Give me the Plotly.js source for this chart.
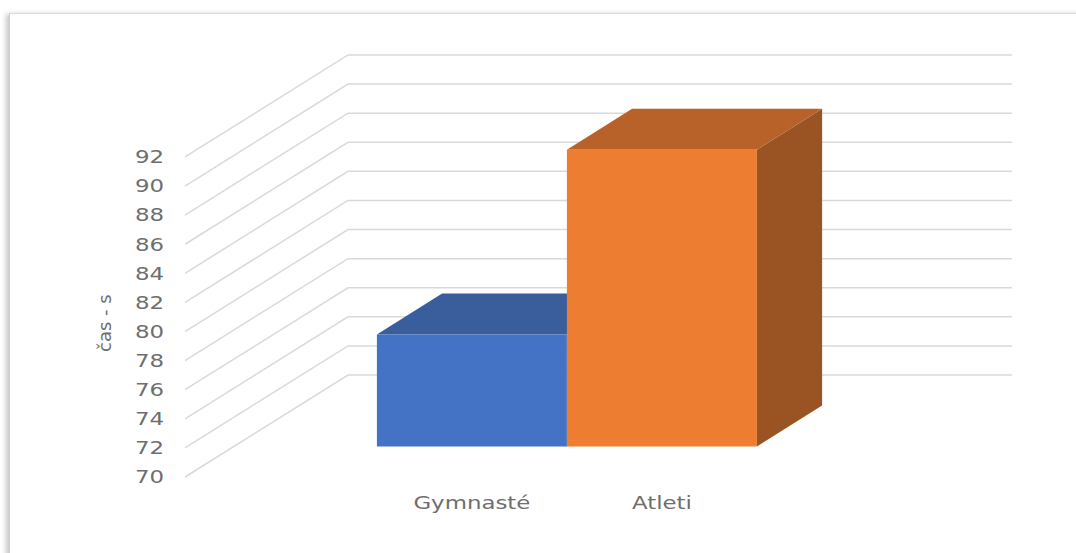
<!DOCTYPE html>
<html>
<head>
<meta charset="utf-8">
<script src="https://cdn.plot.ly/plotly-3.0.1.min.js"></script>
<style>
  html, body { margin: 0; padding: 0; background: #ffffff; }
  #chart { width: 1076px; height: 553px; position: absolute; left: 0; top: 0; }
  #frame { position: absolute; left: 9px; top: 13px; width: 1100px; height: 600px;
           border-left: 1px solid #cfcfcf; border-top: 1px solid #dcdcdc;
           box-shadow: -3px 1px 5px rgba(0,0,0,0.22); pointer-events: none; }
</style>
</head>
<body>
<div id="chart"></div>
<div id="frame"></div>
<script>
// ---- data ----
const categories = ["Gymnasté", "Atleti"];
const values = [77.7, 90.4];
const tickValues = [70, 72, 74, 76, 78, 80, 82, 84, 86, 88, 90, 92];
const yTitle = "čas - s";

// ---- oblique "3D" projection settings ----
const baseVal = 70;
const depthDX = 163;     // x units per full depth
const depthDY = 7.01;    // value units per full depth
const wallLen = 664;     // back wall length in x units
const barW = 190;
const catStart = 238, catStep = 190;
const d0 = 0.3, d1 = 0.7; // bar depth span

function proj(x, v, d) { return [x + d * depthDX, v + d * depthDY]; }

const frontColors = ["#4472C4", "#ED7D31"];
const topColors = ["#3A5D9C", "#B8622A"];
const sideColors = ["#2F4F86", "#9A5423"];
const gridColor = "#d9d9d9";

const traces = [];

// gridlines: diagonal (side wall) + back wall
tickValues.forEach(v => {
  const a = proj(0, v, 0), b = proj(0, v, 1), c = proj(wallLen, v, 1);
  traces.push({
    type: "scatter", mode: "lines", x: [a[0], b[0], c[0]], y: [a[1], b[1], c[1]],
    line: { color: gridColor, width: 1.5 }, hoverinfo: "skip", showlegend: false,
    xaxis: "x", yaxis: "y"
  });
});

// top and side faces
categories.forEach((c, i) => {
  const cx = catStart + i * catStep;
  const xl = cx - barW / 2, xr = cx + barW / 2, v = values[i];
  const top = [proj(xl, v, d0), proj(xr, v, d0), proj(xr, v, d1), proj(xl, v, d1), proj(xl, v, d0)];
  const side = [proj(xr, baseVal, d0), proj(xr, v, d0), proj(xr, v, d1), proj(xr, baseVal, d1), proj(xr, baseVal, d0)];
  [[side, sideColors[i]], [top, topColors[i]]].forEach(([poly, col]) => {
    traces.push({
      type: "scatter", mode: "lines", fill: "toself", fillcolor: col,
      x: poly.map(p => p[0]), y: poly.map(p => p[1]),
      line: { width: 0, color: col }, hoverinfo: "skip", showlegend: false,
      xaxis: "x", yaxis: "y"
    });
  });
});

// front faces as real bars (on overlaid axes so they are drawn on top)
const barX = categories.map((c, i) => catStart + i * catStep + d0 * depthDX);
traces.push({
  type: "bar", x: barX, y: values.map(v => v - baseVal),
  base: baseVal + d0 * depthDY, width: barW,
  marker: { color: frontColors, line: { width: 0 } },
  hovertext: categories, hoverinfo: "text", textposition: "none", showlegend: false,
  xaxis: "x2", yaxis: "y2"
});

const xRange = [0, 827];
const yRange = [69.106, 100.04];
const font = { family: "DejaVu Sans, Open Sans, sans-serif", size: 18, color: "#6e6e6e" };

const layout = {
  width: 1076, height: 553,
  margin: { l: 185, r: 64, t: 40, b: 63 },
  paper_bgcolor: "#ffffff", plot_bgcolor: "rgba(0,0,0,0)",
  showlegend: false,
  font: font,
  xaxis: {
    range: xRange, showgrid: false, zeroline: false, showline: false,
    tickmode: "array", tickvals: barX, ticktext: categories,
    ticks: "", tickfont: font, fixedrange: true
  },
  yaxis: {
    range: yRange, showgrid: false, zeroline: false, showline: false,
    tickmode: "array", tickvals: tickValues, ticktext: tickValues.map(String),
    ticks: "", ticklabelstandoff: 20, tickfont: font, fixedrange: true
  },
  xaxis2: { range: xRange, overlaying: "x", visible: false, fixedrange: true },
  yaxis2: { range: yRange, overlaying: "y", visible: false, fixedrange: true },
  annotations: [{
    text: yTitle, xref: "paper", yref: "paper",
    x: (104 - 185) / 827, y: (490 - 323) / 450,
    xanchor: "center", yanchor: "middle", textangle: -90, showarrow: false,
    font: font
  }]
};

Plotly.newPlot("chart", traces, layout, { displayModeBar: false, staticPlot: true }).then(() => {
  // the reference text is horizontally wide; stretch tick labels a little
  document.querySelectorAll("#chart .xtick text, #chart .ytick text").forEach(t => {
    const L = t.getComputedTextLength();
    t.setAttribute("textLength", (L * 1.27).toFixed(1));
    t.setAttribute("lengthAdjust", "spacingAndGlyphs");
  });
});
</script>
</body>
</html>
